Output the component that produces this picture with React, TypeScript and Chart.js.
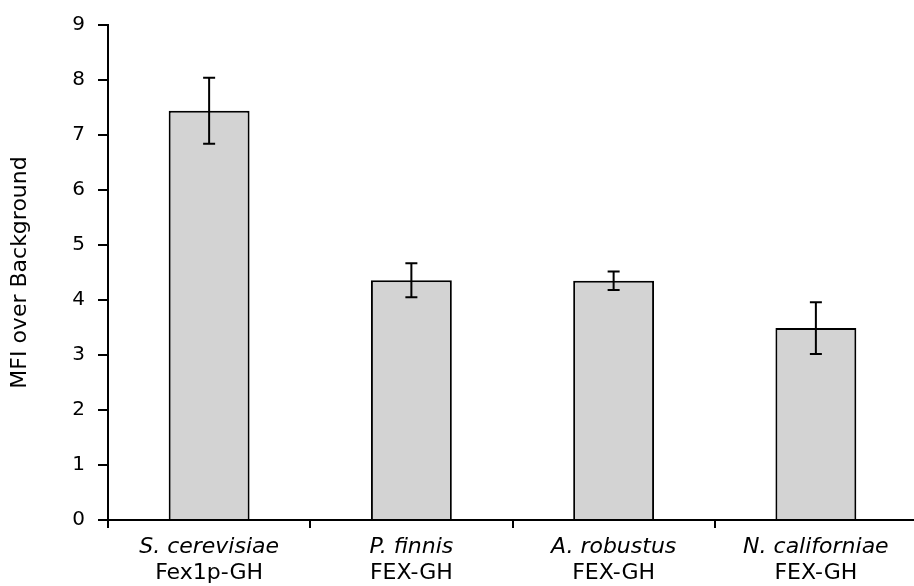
import React, { useEffect, useRef } from "react";
import { Chart, registerables } from "chart.js";

Chart.register(...registerables);

const speciesNames = ["S. cerevisiae", "P. finnis", "A. robustus", "N. californiae"];
const constructNames = ["Fex1p-GH", "FEX-GH", "FEX-GH", "FEX-GH"];
const mfiValues = [7.44, 4.36, 4.35, 3.49];
const mfiErrors = [0.6, 0.31, 0.17, 0.47];
const yAxisTitle = "MFI over Background";

const FONT = "'DejaVu Sans', Verdana, sans-serif";

const errorBarPlugin = {
  id: "errorBars",
  afterDatasetsDraw(chart: any) {
    const { ctx } = chart;
    const yScale = chart.scales.y;
    const meta = chart.getDatasetMeta(0);
    ctx.save();
    ctx.strokeStyle = "#000";
    ctx.lineWidth = 2;
    meta.data.forEach((bar: any, i: number) => {
      const x = bar.x;
      const top = yScale.getPixelForValue(mfiValues[i] + mfiErrors[i]);
      const bottom = yScale.getPixelForValue(mfiValues[i] - mfiErrors[i]);
      const cap = 6;
      ctx.beginPath();
      ctx.moveTo(x, top);
      ctx.lineTo(x, bottom);
      ctx.moveTo(x - cap, top);
      ctx.lineTo(x + cap, top);
      ctx.moveTo(x - cap, bottom);
      ctx.lineTo(x + cap, bottom);
      ctx.stroke();
    });
    ctx.restore();
  },
};

const xLabelPlugin = {
  id: "xLabels",
  afterDraw(chart: any) {
    const { ctx } = chart;
    const xScale = chart.scales.x;
    const base = chart.chartArea.bottom;
    ctx.save();
    ctx.fillStyle = "#000";
    ctx.textAlign = "center";
    ctx.textBaseline = "alphabetic";
    speciesNames.forEach((name, i) => {
      const x = xScale.getPixelForValue(i);
      ctx.font = `italic 22px ${FONT}`;
      ctx.fillText(name, x, base + 33);
      ctx.font = `22px ${FONT}`;
      ctx.fillText(constructNames[i], x, base + 59);
    });
    ctx.restore();
  },
};

export default function App() {
  const canvasRef = useRef<HTMLCanvasElement | null>(null);

  useEffect(() => {
    if (!canvasRef.current) return;
    const chart = new Chart(canvasRef.current, {
      type: "bar",
      data: {
        labels: speciesNames.map((s, i) => `${s} ${constructNames[i]}`),
        datasets: [
          {
            data: mfiValues,
            backgroundColor: "#d3d3d3",
            borderColor: "#000",
            borderWidth: 2,
            barPercentage: 0.4,
            categoryPercentage: 1,
          },
        ],
      },
      options: {
        responsive: false,
        animation: false,
        layout: { padding: { top: 21, right: 3, left: 0, bottom: 0 } },
        plugins: {
          legend: { display: false },
          tooltip: { enabled: false },
        },
        scales: {
          x: {
            offset: true,
            grid: {
              offset: true,
              drawOnChartArea: false,
              drawTicks: true,
              tickLength: 8,
              color: "#000",
              lineWidth: 2,
            },
            border: { display: true, color: "#000", width: 2 },
            ticks: { display: false },
            afterFit(scale: any) {
              scale.height = 66;
            },
          },
          y: {
            min: 0,
            max: 9,
            ticks: {
              stepSize: 1,
              color: "#000",
              padding: 13,
              font: { family: FONT, size: 20 },
            },
            grid: {
              drawOnChartArea: false,
              drawTicks: true,
              tickLength: 10,
              color: "#000",
              lineWidth: 2,
            },
            border: { display: true, color: "#000", width: 2 },
            title: {
              display: true,
              text: yAxisTitle,
              color: "#000",
              font: { family: FONT, size: 22 },
              padding: { top: 7, bottom: 0 },
            },
            afterFit(scale: any) {
              scale.width = 108;
            },
          },
        },
      },
      plugins: [errorBarPlugin, xLabelPlugin],
    });
    return () => chart.destroy();
  }, []);

  return (
    <div
      style={{
        position: "fixed",
        left: 0,
        top: 0,
        width: 914,
        height: 586,
        overflow: "hidden",
        background: "#fff",
      }}
    >
      <canvas ref={canvasRef} width={920} height={586} style={{ display: "block" }} />
    </div>
  );
}
